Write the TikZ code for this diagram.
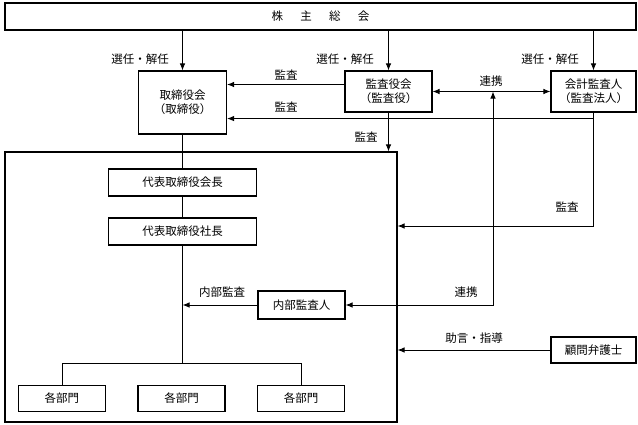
\documentclass[tikz,border=0pt]{standalone}
\usepackage{fontspec}
\newfontfamily\jpfont{Noto Sans CJK JP}
\usetikzlibrary{arrows.meta}

\begin{document}
\begin{tikzpicture}[x=1pt,y=-1pt,line width=0.9pt,
        box/.style={draw,line width=1.1pt,inner sep=0pt,align=center,
            font=\jpfont\fontsize{11.5}{14}\selectfont},
        lbl/.style={inner sep=1pt,font=\jpfont\fontsize{11.5}{13}\selectfont},
        arr/.style={-{Latex[length=7pt,width=5.5pt]}},
        darr/.style={{Latex[length=7pt,width=5.5pt]}-{Latex[length=7pt,width=5.5pt]}}]
    \useasboundingbox (0,0) rectangle (638,424);

    \node[box,minimum width=631pt,minimum height=27pt] (soukai) at (320.5,16.5)
        {株\hspace{1.5em}主\hspace{1.5em}総\hspace{1.5em}会};

    \node[box,minimum width=88pt,minimum height=63pt] (torishimari) at (182.5,102.5) {取締役会\\（取締役）};
    \node[box,minimum width=87pt,minimum height=41pt] (kansayaku) at (388.5,91.5) {監査役会\\（監査役）};
    \node[box,minimum width=85pt,minimum height=41pt] (kaikei) at (593.5,91.5) {会計監査人\\（監査法人）};

    \node[box,minimum width=392pt,minimum height=270pt] (shikkou) at (201,287) {};
    \node[box,minimum width=148pt,minimum height=27pt] (kaichou) at (182.5,182.5) {代表取締役会長};
    \node[box,minimum width=148pt,minimum height=27pt] (shachou) at (182.5,231.5) {代表取締役社長};
    \node[box,minimum width=87pt,minimum height=28pt] (naibu) at (301.5,305) {内部監査人};
    \node[box,minimum width=85pt,minimum height=26pt] (komon) at (593.5,350) {顧問弁護士};

    \foreach \n/\x in {1/62,2/181.5,3/301}
        \node[box,minimum width=87pt,minimum height=26pt] (bumon\n) at (\x,398.5) {各部門};

    % 選任・解任
    \foreach \n in {torishimari,kansayaku,kaikei}
        \draw[arr] (\n.north |- soukai.south) -- (\n.north);
    \foreach \n/\x in {1/140,2/345,3/550}
        \node[lbl] (senin\n) at (\x,59) {選任・解任};

    % 監査
    \draw[arr] ([yshift=7pt]kansayaku.west) -- ([yshift=7pt]kansayaku.west -| torishimari.east);
    \node[lbl] (kansa1) at (286,75) {監査};
    \coordinate (kb) at ([yshift=-6pt]kaikei.south);
    \draw[arr] (kb) -- (kb -| torishimari.east);
    \node[lbl] (kansa2) at (286,107) {監査};
    \draw[arr] (kaikei.south) |- ([yshift=61pt]shikkou.east);
    \node[lbl] (kansa3) at (567,207) {監査};
    \draw[arr] (kansayaku.south) -- (kansayaku.south |- shikkou.north);
    \node[lbl] (kansa4) at (366,137) {監査};

    % 連携
    \draw[darr] (kansayaku.east) -- (kaikei.west);
    \node[lbl] (renkei1) at (491,81) {連携};
    \coordinate (rk) at (493,0);
    \draw[darr] (naibu.east) -| (rk |- kaikei.west);
    \node[lbl] (renkei2) at (466,292) {連携};

    % 社内
    \draw (torishimari.south) -- (kaichou.north);
    \draw (kaichou.south) -- (shachou.north);
    \coordinate (bj) at (182.5,363);
    \draw (shachou.south) -- (bj);
    \draw (bumon1.north) |- (bumon3.north |- bj) -- (bumon3.north);
    \draw[arr] (naibu.west) -- (naibu.west -| shachou.south);
    \node[lbl] (naibukansa) at (222,292) {内部監査};

    % 顧問弁護士
    \draw[arr] (komon.west) -- (komon.west -| shikkou.east);
    \node[lbl] (jogen) at (474,338) {助言・指導};
\end{tikzpicture}
\end{document}
